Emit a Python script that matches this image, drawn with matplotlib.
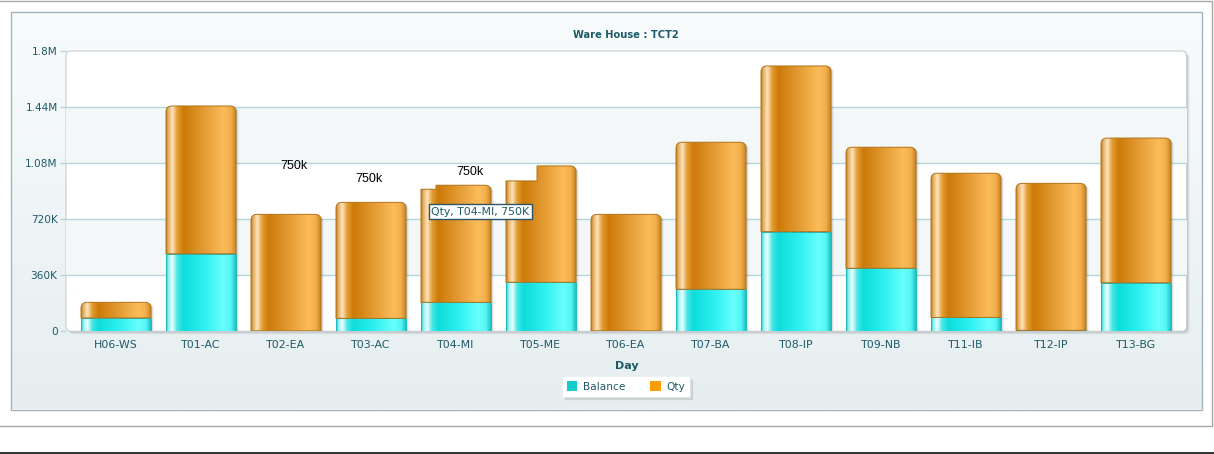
import numpy as np
import matplotlib
matplotlib.use("Agg")
import matplotlib.pyplot as plt
from matplotlib.path import Path
from matplotlib.patches import PathPatch, Rectangle, FancyBboxPatch, Patch
from matplotlib.colors import LinearSegmentedColormap

title = "Ware House : TCT2"
x_title = "Day"
days = ["H06-WS", "T01-AC", "T02-EA", "T03-AC", "T04-MI", "T05-ME", "T06-EA",
        "T07-BA", "T08-IP", "T09-NB", "T11-IB", "T12-IP", "T13-BG"]
balance = [86000, 498000, 3000, 83000, 186000, 315000, 3000,
           270000, 640000, 405000, 89000, 6000, 312000]
qty = [100000, 949000, 748000, 745000, 752000, 747000, 748000,
       944000, 1064000, 777000, 926000, 944000, 929000]
y_ticks = [0, 360000, 720000, 1080000, 1440000, 1800000]
y_labels = ["0", "360K", "720K", "1.08M", "1.44M", "1.8M"]
# stray value labels + hover tooltip visible in the screenshot
stray_text = "750k"
stray_days = ["T02-EA", "T03-AC", "T04-MI"]
tooltip = "Qty, T04-MI, 750K"

TEXT = "#1d5a68"
W, H = 1214, 454
fig = plt.figure(figsize=(W / 100, H / 100), dpi=100)

# ---- page / panel decoration, in pixel coords ----
bg = fig.add_axes([0, 0, 1, 1], zorder=0)
bg.set_xlim(0, W); bg.set_ylim(H, 0); bg.axis("off")
bg.add_patch(Rectangle((-2, 0.5), 1214, 425.5, fill=False, ec="#a6a6a6", lw=1))
bg.add_patch(Rectangle((0, 451.5), W, 4, color="#353535", lw=0))
panel_cm = LinearSegmentedColormap.from_list("panel", ["#f9fcfd", "#e6eef0"])
bg.imshow(np.linspace(0, 1, 200)[:, None], cmap=panel_cm, aspect="auto",
          extent=(10.5, 1201.5, 409.5, 11.5), origin="upper", zorder=0)
bg.add_patch(Rectangle((10.5, 11.5), 1191, 398, fill=False, ec="#a3b4c0", lw=1, zorder=1))
px0, py0, px1, py1 = 66, 51, 1186.7, 331.3
for off, a in ((3, 0.05), (2, 0.07), (1, 0.09)):
    bg.add_patch(FancyBboxPatch((px0 + off, py0 + off), px1 - px0, py1 - py0,
                                boxstyle="round,pad=0,rounding_size=5",
                                fc="black", ec="none", alpha=a, zorder=2))
bg.add_patch(FancyBboxPatch((px0, py0), px1 - px0, py1 - py0,
                            boxstyle="round,pad=0,rounding_size=5",
                            fc="white", ec="#c9cdd0", lw=0.8, zorder=3))
bg.set_xlim(0, W); bg.set_ylim(H, 0)

# ---- chart axes ----
ax = fig.add_axes([px0 / W, 1 - py1 / H, (px1 - px0) / W, (py1 - py0) / H], zorder=2)
ax.patch.set_alpha(0)
xlo, xhi = (px0 - 116) / 85, (px1 - 116) / 85
ylo, yhi = 0, 1800000
sx = (px1 - px0) / (xhi - xlo)   # px per x unit
sy = (py1 - py0) / (yhi - ylo)   # px per y unit

for lo, hi in ((360000, 720000), (1080000, 1440000)):
    ax.axhspan(lo, hi, color="#f3f7f8", lw=0, zorder=0)
for t in y_ticks[1:-1]:
    ax.axhline(t, color="#b5d7dc", lw=1, zorder=1)

bw = 70 / 85
orange_cm = LinearSegmentedColormap.from_list("o", [
    (0.0, "#c4801e"), (0.04, "#eab872"), (0.09, "#fde4bd"), (0.16, "#e39c32"),
    (0.25, "#cc7a08"), (0.55, "#e49c34"), (0.82, "#fcbc5a"), (0.93, "#f3ae4c"),
    (1.0, "#c98420")])
cyan_cm = LinearSegmentedColormap.from_list("c", [
    (0.0, "#28c4c4"), (0.04, "#9af6f6"), (0.09, "#effefe"), (0.16, "#48e6e6"),
    (0.25, "#0fdcdc"), (0.55, "#2ef0f0"), (0.82, "#68ffff"), (0.93, "#56f6f6"),
    (1.0, "#1fc0c0")])
grad = np.linspace(0, 1, 256)[None, :]

# tooltip redraw glitch: (left width px, drop px)
notches = {"T04-MI": (15, 4), "T05-ME": (31, 15)}


def bar_path(xc, y0, y1, r=0, notch=None, dx=0, dy=0):
    x0, x1 = xc - bw / 2 + dx / sx, xc + bw / 2 + dx / sx
    y0, y1 = y0 - dy / sy, y1 - dy / sy
    rx, ry = r / sx, r / sy
    v, c = [(x0, y0)], [Path.MOVETO]
    if notch:
        yn, xn = y1 - notch[1] / sy, x0 + notch[0] / sx
        v += [(x0, yn), (xn, yn), (xn, y1)]
        c += [Path.LINETO] * 3
    elif r:
        v += [(x0, y1 - ry), (x0, y1), (x0 + rx, y1)]
        c += [Path.LINETO, Path.CURVE3, Path.CURVE3]
    else:
        v += [(x0, y1)]; c += [Path.LINETO]
    if r:
        v += [(x1 - rx, y1), (x1, y1), (x1, y1 - ry)]
        c += [Path.LINETO, Path.CURVE3, Path.CURVE3]
    else:
        v += [(x1, y1)]; c += [Path.LINETO]
    v += [(x1, y0), (x0, y0)]
    c += [Path.LINETO, Path.CLOSEPOLY]
    return Path(v, c)


def segment(xc, y0, y1, cmap, edge, r=0, notch=None):
    p = PathPatch(bar_path(xc, y0, y1, r, notch), fc="none", ec=edge, lw=0.7, zorder=4)
    ax.add_patch(p)
    im = ax.imshow(grad, cmap=cmap, extent=(xc - bw / 2, xc + bw / 2, y0, y1),
                   aspect="auto", interpolation="bilinear", zorder=3)
    im.set_clip_path(p)


for i, (d, b, q) in enumerate(zip(days, balance, qty)):
    nt = notches.get(d)
    for off, a in ((3, 0.05), (2, 0.08), (1, 0.10)):
        ax.add_patch(PathPatch(bar_path(i, 0, b + q, 6, nt, dx=off, dy=off * 0.5),
                               fc="black", ec="none", alpha=a, zorder=2))
    segment(i, 0, b, cyan_cm, "#22b8b8")
    segment(i, b, b + q, orange_cm, "#b0731a", r=6, notch=nt)

# stray labels left on screen by the chart library
for d, dx, yv in zip(stray_days, (0.09, -0.02, 0.17), (1063000, 978000, 1025000)):
    ax.text(days.index(d) + dx, yv, stray_text, ha="center", va="center",
            fontsize=9, family="Liberation Sans", color="black", zorder=6)
ax.text(days.index("T04-MI") + 0.288, 769000, tooltip, ha="center", va="center",
        fontsize=7.8, color=TEXT, zorder=7,
        bbox=dict(boxstyle="square,pad=0.25", fc="white", ec="#2e5566", lw=1))

ax.set_xlim(xlo, xhi); ax.set_ylim(ylo, yhi)
ax.set_xticks(range(len(days)), days)
ax.set_yticks(y_ticks, y_labels)
ax.tick_params(axis="x", length=0, pad=6, labelsize=7.9, labelcolor=TEXT)
ax.tick_params(axis="y", length=4, width=1, color="#b5d7dc", pad=2,
               labelsize=7.6, labelcolor=TEXT)
for s in ax.spines.values():
    s.set_visible(False)
ax.set_xlabel(x_title, fontsize=8, fontweight="bold", color=TEXT, labelpad=8)
fig.text(626 / W, 1 - 35 / H, title, ha="center", va="center",
         fontsize=7.1, fontweight="bold", color=TEXT)

leg = ax.legend(handles=[Patch(fc="#0fcdcd", label="Balance"),
                         Patch(fc="#fd9d00", label="Qty")],
                loc="center", bbox_to_anchor=(626 / W, 1 - 386.5 / H),
                bbox_transform=fig.transFigure, ncol=2, fontsize=7.6,
                handlelength=1.0, handleheight=1.0, handletextpad=0.5,
                columnspacing=2.4, borderpad=0.4, fancybox=False,
                shadow={"alpha": 0.12}, edgecolor="white", framealpha=1)
for t in leg.get_texts():
    t.set_color(TEXT)

fig.savefig("out.png", dpi=100)
